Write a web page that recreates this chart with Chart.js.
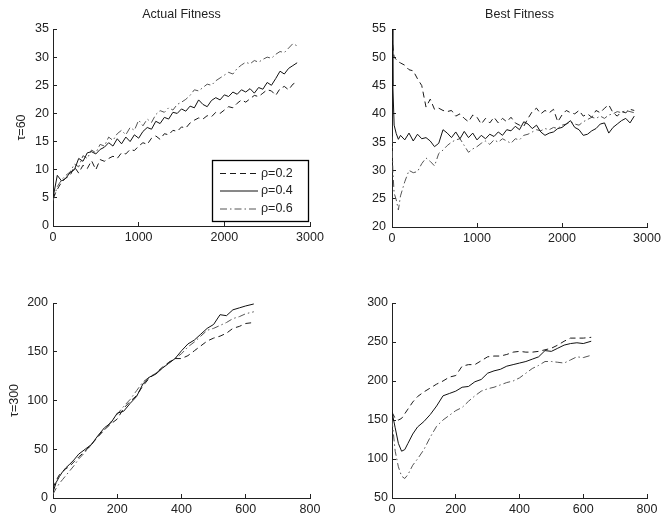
<!DOCTYPE html>
<html>
<head>
<meta charset="utf-8">
<script src="https://cdn.jsdelivr.net/npm/chart.js@4"></script>
<style>
html,body{margin:0;padding:0;background:#fff;}
#wrap{position:relative;width:661px;height:518px;overflow:hidden;}
canvas{position:absolute;}
</style>
</head>
<body>
<div id="wrap">
<canvas id="c1" style="left:0;top:0"></canvas>
<canvas id="c2" style="left:330px;top:0"></canvas>
<canvas id="c3" style="left:0;top:262px"></canvas>
<canvas id="c4" style="left:330px;top:262px"></canvas>
</div>
<script>
// ---------- DATA ----------
const seriesLabels = ['ρ=0.2', 'ρ=0.4', 'ρ=0.6'];
const columnTitles = ['Actual Fitness', 'Best Fitness'];
const rowTitles = ['τ=60', 'τ=300'];

// Top row (tau = 60), Actual Fitness
const xActual60 = [0,50,100,150,200,250,300,350,400,450,500,550,600,650,700,750,800,850,900,950,1000,1050,1100,1150,1200,1250,1300,1350,1400,1450,1500,1550,1600,1650,1700,1750,1800,1850,1900,1950,2000,2050,2100,2150,2200,2250,2300,2350,2400,2450,2500,2550,2600,2650,2700,2750,2800,2850];
const actual60_rho02 = [5,6.5,7.8,8.5,9,10.5,9.4,10.8,10.2,11.6,10,11.8,11.5,12,12.4,12,13,12.8,13.6,13.4,14.2,14.8,14.5,15.6,16,15.4,16.4,16.2,17,16.8,17.6,17.4,18.3,18.8,19.2,19,19.6,19.4,20.2,20,20.6,21.2,21,21.8,22.4,22,22.6,23.2,23,23.6,24.2,24,23.2,24.4,24.8,24.2,25.2,25.6];
const actual60_rho04 = [5,9,8,8.5,9.5,10,12,11.5,13,13.2,12.8,13.6,14,14.8,14.2,15.5,14.6,15.8,15,16.2,15.6,16.8,17.5,17.2,18.6,18.2,19.3,19,20.2,20,20.8,20.4,21.3,21,22.4,21.6,21.2,22.3,22.8,22.4,23.3,23,23.8,23.4,24.2,23.8,24.4,23.6,24.6,24.3,25.5,25,26.2,27.5,27,28,28.5,29];
const actual60_rho06 = [4.5,7,8.2,9,9.6,11,10.5,12.5,12,13.5,13,14.5,14.2,15.8,15.2,16.4,17,16.2,17.5,17,18.8,17.8,19,18.4,19.8,20.5,20.2,21,20.6,21.6,22,22.5,23.2,24.2,24,24.6,25.2,25,25.8,26.3,26.8,27.3,27,28,28.6,29.1,28.8,29.4,29.1,29.6,30,29.8,30.5,31,30.8,31.6,32.4,32];

// Top row (tau = 60), Best Fitness
const xBest60 = [0,10,25,50,75,100,150,200,250,300,350,400,450,500,550,600,650,700,750,800,850,900,950,1000,1050,1100,1150,1200,1250,1300,1350,1400,1450,1500,1550,1600,1650,1700,1750,1800,1850,1900,1950,2000,2050,2100,2150,2200,2250,2300,2350,2400,2450,2500,2550,2600,2650,2700,2750,2800,2850];
const best60_rho02 = [54,52,50,49.6,49.2,49,48.6,47.8,47.6,46.2,45,41.2,42.6,40.8,41,40.6,40.4,40.6,39.6,40,39.2,38.6,39.8,39.4,38.2,39.2,38.4,39.4,38.4,39.2,38.6,39.4,38.4,38,37.8,39.2,40.4,41,40,40.6,40.2,40.8,38.6,39.8,40.6,40.2,40,40.6,39.6,40,39.4,40.6,40.2,41,41.6,40.2,39.6,40.4,40.2,40.8,40.6];
const best60_rho04 = [55,45,38,36.5,35.5,36.2,35.4,36.6,35.2,36.4,35.6,35.8,35.2,34.2,34.8,37.2,36.6,35.8,36.8,35.6,36.9,35.8,36.6,35.4,36.2,35.6,36.4,36,36.8,36.2,37.2,37,37.8,37.2,38.6,38.2,37.4,38,36.8,36.2,36.6,36.8,37.4,37.6,38.2,38.8,37.6,37.2,36.2,36.4,37,37.4,38.2,38.4,36.6,37.6,38.2,38.8,39.2,38.4,39.6];
const best60_rho06 = [36,30,26,24.8,23,25.5,28,30,29.6,29.8,31.2,32.2,31.6,30.8,33,33.6,34.4,35,35.4,35.6,34.4,33.2,33.8,34.2,34.8,35.2,34.6,35.4,35,35.6,35.2,34.8,35.6,35.4,36.2,36.4,36.8,37.2,37,37.4,37.2,37.6,37.4,38,38.2,38.6,38.2,38,38.6,39,39.4,39.2,39.6,39.2,39.8,40,40.4,40.2,40.6,40.4,40.2];

// Bottom row (tau = 300)
const x300 = [0,10,20,30,40,50,65,80,100,120,140,160,180,200,220,240,260,280,300,320,340,360,380,400,420,440,460,480,500,520,540,560,580,600,625];
const actual300_rho02 = [10,18,24,27,30,32,37,42,48,55,63,70,76,81,92,99,105,115,123,128,134,139,143,143,146,151,156,161,164,166,169,174,176,179,180];
const actual300_rho04 = [6,16,22,27,31,34,39,45,50,55,64,72,77,87,89,97,104,117,124,127,133,138,143,151,158,162,168,174,178,188,187,193,195,197,199];
const actual300_rho06 = [4,10,15,19,23,27,33,40,47,55,63,70,78,86,94,101,110,119,124,128,133,139,143,148,155,160,166,172,174,177,180,184,186,189,191];
const best300_rho02 = [160,152,150,152,158,164,173,180,186,191,196,200,205,207,219,221,221,226,231,232,232,234,237,238,237,237,238,240,242,246,251,255,255,255,256];
const best300_rho04 = [160,140,120,110,112,120,132,141,148,157,168,181,184,187,192,193,199,202,210,213,215,219,221,223,225,228,231,239,238,242,246,248,249,248,251];
const best300_rho06 = [150,110,90,78,75,80,92,100,112,128,142,150,156,162,166,174,181,187,190,192,195,198,200,204,210,216,220,225,225,224,223,227,231,230,233];

// Axis ticks
const xTicksTop = [0, 1000, 2000, 3000];
const xTicksBottom = [0, 200, 400, 600, 800];
const yTicksActual60 = [0, 5, 10, 15, 20, 25, 30, 35];
const yTicksBest60 = [20, 25, 30, 35, 40, 45, 50, 55];
const yTicksActual300 = [0, 50, 100, 150, 200];
const yTicksBest300 = [50, 100, 150, 200, 250, 300];

// ---------- STYLE / BUILD ----------
const FONT = '"Liberation Sans", Arial, Helvetica, sans-serif';
const INK = '#222';
const TICK_SIZE = 12.5;
const TITLE_SIZE = 12.5;
const lineStyles = [
  {borderColor: '#1a1a1a', borderDash: [6, 4]},
  {borderColor: '#111', borderDash: []},
  {borderColor: '#555', borderDash: [7, 3, 1.5, 3]}
];

function pts(xs, ys) { return ys.map((v, i) => ({x: xs[i], y: v})); }

function makeDatasets(xs, arrs) {
  return arrs.map((a, i) => ({
    label: seriesLabels[i],
    data: pts(xs, a),
    borderColor: lineStyles[i].borderColor,
    borderDash: lineStyles[i].borderDash,
    borderWidth: 1,
    pointRadius: 0,
    tension: 0,
    fill: false
  }));
}

const legendBox = {
  id: 'legendBox',
  afterDatasetsDraw(chart, args, opts) {
    if (!opts || !opts.show) return;
    const ctx = chart.ctx;
    const {x0, y0, x1, y1} = opts;
    ctx.save();
    ctx.fillStyle = '#fff';
    ctx.fillRect(x0, y0, x1 - x0, y1 - y0);
    ctx.strokeStyle = '#000';
    ctx.lineWidth = 1.3;
    ctx.setLineDash([]);
    ctx.strokeRect(x0 + 0.5, y0 + 0.5, x1 - x0, y1 - y0);
    const rows = opts.rows;
    chart.data.datasets.forEach((ds, i) => {
      const y = rows[i];
      ctx.beginPath();
      ctx.strokeStyle = ds.borderColor;
      ctx.lineWidth = 1;
      ctx.setLineDash(ds.borderDash || []);
      ctx.moveTo(opts.lx0, y + 0.5);
      ctx.lineTo(opts.lx1, y + 0.5);
      ctx.stroke();
      ctx.setLineDash([]);
      ctx.fillStyle = INK;
      ctx.font = TICK_SIZE + 'px ' + FONT;
      ctx.textBaseline = 'middle';
      ctx.textAlign = 'left';
      ctx.fillText(ds.label, opts.tx, y + 0.5);
    });
    ctx.restore();
  }
};

function makeChart(id, cfg) {
  const cv = document.getElementById(id);
  cv.width = cfg.w; cv.height = cfg.h;
  cv.style.width = cfg.w + 'px'; cv.style.height = cfg.h + 'px';
  return new Chart(cv, {
    type: 'line',
    data: {datasets: makeDatasets(cfg.xs, cfg.series)},
    plugins: [legendBox],
    options: {
      responsive: false,
      animation: false,
      events: [],
      layout: {padding: cfg.pad},
      plugins: {
        legend: {display: false},
        tooltip: {enabled: false},
        title: cfg.title ? {
          display: true, text: cfg.title, color: INK, fullSize: false,
          font: {family: FONT, size: TITLE_SIZE, weight: 'normal', lineHeight: 1.2},
          padding: {top: 7.5, bottom: 6.5}
        } : {display: false},
        legendBox: cfg.legend || {show: false}
      },
      scales: {
        x: {
          type: 'linear', min: cfg.xTicks[0], max: cfg.xTicks[cfg.xTicks.length - 1],
          afterBuildTicks: (s) => { s.ticks = cfg.xTicks.map(v => ({value: v})); },
          afterFit: (s) => { s.height = cfg.xH; s.paddingLeft = 0; s.paddingRight = 0; },
          border: {display: true, color: INK, width: 1},
          grid: {drawOnChartArea: false, drawTicks: true, tickLength: -4, color: INK},
          ticks: {color: INK, font: {family: FONT, size: TICK_SIZE}, padding: 8.5, maxRotation: 0, autoSkip: false,
                  callback: (v) => String(v)}
        },
        y: {
          type: 'linear', min: cfg.yTicks[0], max: cfg.yTicks[cfg.yTicks.length - 1],
          afterBuildTicks: (s) => { s.ticks = cfg.yTicks.map(v => ({value: v})); },
          afterFit: (s) => { s.width = cfg.yW; s.paddingTop = 0; s.paddingBottom = 0; },
          border: {display: true, color: INK, width: 1},
          grid: {drawOnChartArea: false, drawTicks: true, tickLength: -4, color: INK},
          ticks: {color: INK, font: {family: FONT, size: TICK_SIZE}, padding: cfg.yPad, autoSkip: false,
                  callback: (v) => String(v)},
          title: cfg.yTitle ? {display: true, text: cfg.yTitle, color: INK,
                  font: {family: FONT, size: TITLE_SIZE, lineHeight: 1.2}, padding: {top: cfg.yTitlePad, bottom: 0}} : {display: false}
        }
      }
    }
  });
}

// Top-left: chart area 53..310 x 29..226 (canvas at 0,0 size 330x262)
makeChart('c1', {
  w: 330, h: 262, xs: xActual60,
  series: [actual60_rho02, actual60_rho04, actual60_rho06],
  xTicks: xTicksTop, yTicks: yTicksActual60,
  pad: {left: 0, top: 0, right: 20, bottom: 262 - 226 - 30},
  xH: 30, yW: 53, yPad: 8, title: columnTitles[0], yTitle: rowTitles[0], yTitlePad: 14.5,
  legend: {show: true, x0: 212, y0: 160, x1: 308, y1: 221, rows: [173, 190.5, 208.5], lx0: 220, lx1: 258, tx: 261}
});

// Top-right: chart area 392..647 x 29..227 (canvas at 330,0 size 331x262)
makeChart('c2', {
  w: 331, h: 262, xs: xBest60,
  series: [best60_rho02, best60_rho04, best60_rho06],
  xTicks: xTicksTop, yTicks: yTicksBest60,
  pad: {left: 0, top: 0, right: 331 - (647 - 330), bottom: 262 - 227 - 30},
  xH: 30, yW: 62, yPad: 10, title: columnTitles[1]
});

// Bottom-left: chart area 53..310 x 303..498 (canvas at 0,262 size 330x256)
makeChart('c3', {
  w: 330, h: 256, xs: x300,
  series: [actual300_rho02, actual300_rho04, actual300_rho06],
  xTicks: xTicksBottom, yTicks: yTicksActual300,
  pad: {left: 0, top: 303 - 262, right: 20, bottom: 256 - (498 - 262) - 20},
  xH: 20, yW: 53, yPad: 9, yTitle: rowTitles[1], yTitlePad: 7.5
});

// Bottom-right: chart area 392..647 x 303..498 (canvas at 330,262 size 331x256)
makeChart('c4', {
  w: 331, h: 256, xs: x300,
  series: [best300_rho02, best300_rho04, best300_rho06],
  xTicks: xTicksBottom, yTicks: yTicksBest300,
  pad: {left: 0, top: 303 - 262, right: 331 - (647 - 330), bottom: 256 - (498 - 262) - 20},
  xH: 20, yW: 62, yPad: 8
});
</script>
</body>
</html>
